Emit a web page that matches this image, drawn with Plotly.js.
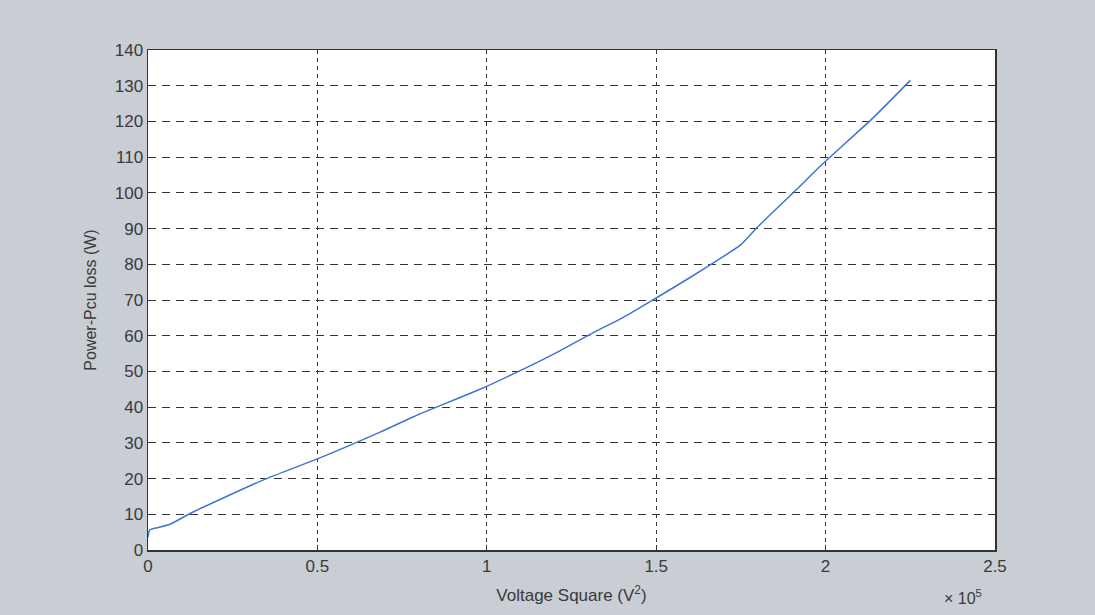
<!DOCTYPE html>
<html>
<head>
<meta charset="utf-8">
<script src="https://cdn.plot.ly/plotly-3.0.1.min.js"></script>
<style>html,body{margin:0;padding:0;background:#c9cdd4;}</style>
</head>
<body>
<div id="chart" style="width:1095px;height:615px;"></div>
<script>
// Voltage square (V^2)
const voltageSquare = [0, 500, 3000, 6500, 13000, 35000, 50000, 68500, 80000, 98000, 110000, 120000, 131300, 140000, 149000, 160000, 170000, 175000, 180000, 191500, 199000, 214000, 225000];
// Power - Pcu loss (W)
const powerLoss = [3.6, 5.6, 6.3, 7.2, 10.5, 20, 25.5, 33, 38, 45, 50.3, 55, 60.8, 65, 70, 76.3, 82.3, 85.5, 90.5, 101, 108, 121, 131.5];
const xTickVals = [0, 50000, 100000, 150000, 200000, 250000];
const xTickText = ['0', '0.5', '1', '1.5', '2', '2.5'];
const yTickVals = [0, 10, 20, 30, 40, 50, 60, 70, 80, 90, 100, 110, 120, 130, 140];

const axisFont = {family: 'Liberation Sans, Arial, sans-serif', size: 17, color: '#3a3a3a'};

Plotly.newPlot('chart', [{
  x: voltageSquare,
  y: powerLoss,
  mode: 'lines',
  line: {color: '#3f74d6', width: 1.5, shape: 'spline', smoothing: 0.6},
  showlegend: false
}], {
  width: 1095, height: 615,
  paper_bgcolor: '#c9cdd4',
  plot_bgcolor: '#ffffff',
  margin: {l: 148, r: 100, t: 50, b: 65},
  xaxis: {
    range: [0, 250000],
    tickvals: xTickVals, ticktext: xTickText,
    showgrid: true, gridcolor: '#333333', griddash: '4px,4px', gridwidth: 1,
    showline: true, linecolor: '#333333', linewidth: 1.5, mirror: true,
    ticks: 'inside', ticklen: 5, tickcolor: '#333333',
    zeroline: false,
    tickfont: axisFont,
    title: {text: 'Voltage Square (V<sup>2</sup>)', font: {family: 'Liberation Sans, Arial, sans-serif', size: 17, color: '#3a3a3a'}, standoff: 14}
  },
  yaxis: {
    range: [0, 140],
    tickvals: yTickVals,
    showgrid: true, gridcolor: '#333333', griddash: '8px,6px', gridwidth: 1,
    showline: true, linecolor: '#333333', linewidth: 1.5, mirror: true,
    ticks: 'inside', ticklen: 5, tickcolor: '#333333',
    zeroline: false,
    tickfont: axisFont,
    title: {text: 'Power-Pcu loss (W)', font: {family: 'Liberation Sans, Arial, sans-serif', size: 16, color: '#3a3a3a'}, standoff: 14}
  },
  annotations: [{
    xref: 'paper', yref: 'paper', x: 0.962, y: -0.07,
    xanchor: 'center', yanchor: 'top', showarrow: false,
    text: '× 10<sup>5</sup>',
    font: {family: 'Liberation Sans, Arial, sans-serif', size: 16, color: '#3a3a3a'}
  }]
}, {displayModeBar: false, staticPlot: true});
</script>
</body>
</html>
